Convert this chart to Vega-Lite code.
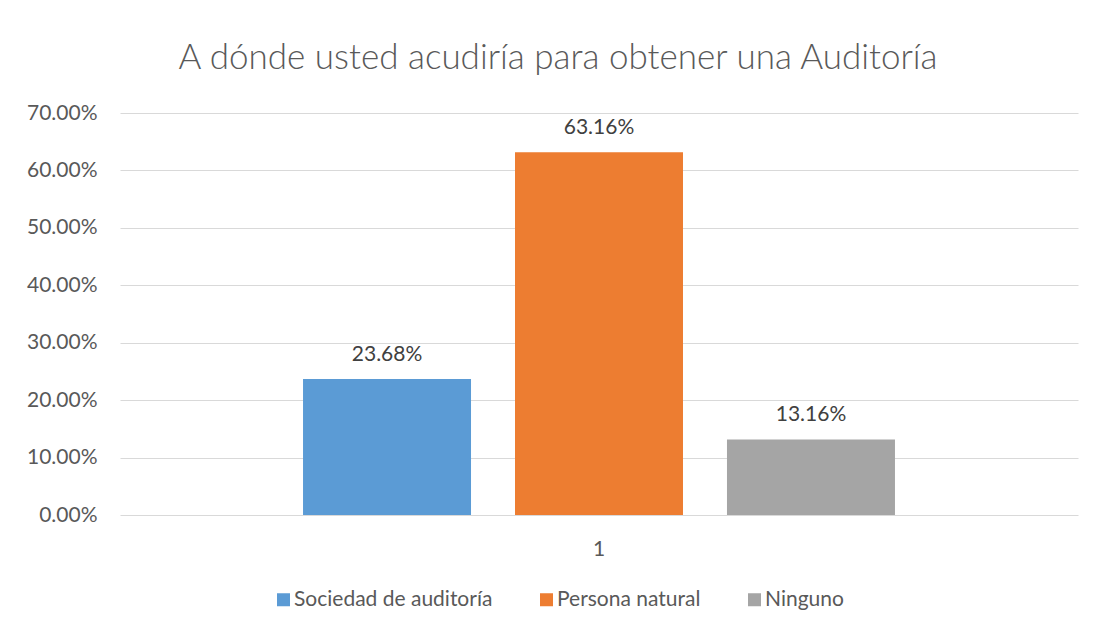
{
  "$schema": "https://vega.github.io/schema/vega-lite/v6.json",
  "autosize": {"type": "none"},
  "width": 958,
  "height": 402,
  "padding": {"left": 120, "top": 113, "right": 17, "bottom": 115},
  "background": "white",
  "title": {
    "text": "A dónde usted acudiría para obtener una Auditoría",
    "font": "Lato",
    "fontSize": 35,
    "fontWeight": 300,
    "color": "#595959",
    "anchor": "middle",
    "frame": "group",
    "baseline": "alphabetic",
    "dx": -41,
    "offset": -2
  },
  "data": {
    "values": [
      {"cat": "1", "serie": "Sociedad de auditoría", "valor": 0.2368},
      {"cat": "1", "serie": "Persona natural", "valor": 0.6316},
      {"cat": "1", "serie": "Ninguno", "valor": 0.1316}
    ]
  },
  "encoding": {
    "x": {
      "field": "cat",
      "type": "nominal",
      "scale": {"paddingInner": 0, "paddingOuter": 0.2532},
      "axis": {
        "title": null,
        "labelAngle": 0,
        "domain": false,
        "ticks": false,
        "tickSize": 0,
        "labelPadding": 23,
        "labelFont": "Lato",
        "labelFontSize": 21,
        "labelColor": "#595959"
      }
    },
    "xOffset": {
      "field": "serie",
      "type": "nominal",
      "sort": ["Sociedad de auditoría", "Persona natural", "Ninguno"],
      "scale": {"paddingInner": 0.2075, "paddingOuter": 0.1038}
    },
    "y": {
      "field": "valor",
      "type": "quantitative",
      "scale": {"domain": [0, 0.7], "nice": false},
      "axis": {
        "title": null,
        "values": [0, 0.1, 0.2, 0.3, 0.4, 0.5, 0.6, 0.7],
        "format": ".2%",
        "domain": false,
        "ticks": false,
        "tickSize": 0,
        "labelPadding": 23,
        "labelFont": "Lato",
        "labelFontSize": 21,
        "labelColor": "#595959",
        "gridColor": "#D9D9D9",
        "gridWidth": 1
      }
    }
  },
  "layer": [
    {
      "mark": {"type": "bar"},
      "encoding": {
        "color": {
          "field": "serie",
          "type": "nominal",
          "sort": ["Sociedad de auditoría", "Persona natural", "Ninguno"],
          "scale": {
            "domain": ["Sociedad de auditoría", "Persona natural", "Ninguno"],
            "range": ["#5B9BD5", "#ED7D31", "#A5A5A5"]
          },
          "legend": {
            "title": null,
            "orient": "none",
            "direction": "horizontal",
            "legendX": 153,
            "legendY": 476,
            "symbolType": "square",
            "symbolSize": 169,
            "symbolStrokeWidth": 0,
            "symbolOpacity": 1,
            "labelFont": "Lato",
            "labelFontSize": 21,
            "labelColor": "#595959",
            "labelLimit": 400,
            "labelOffset": 0,
            "columnPadding": 43,
            "padding": 0
          }
        }
      }
    },
    {
      "mark": {
        "type": "text",
        "baseline": "alphabetic",
        "dy": -18,
        "font": "Lato",
        "fontSize": 21,
        "color": "#404040"
      },
      "encoding": {
        "text": {"field": "valor", "type": "quantitative", "format": ".2%"}
      }
    }
  ],
  "config": {
    "view": {"stroke": null}
  }
}
